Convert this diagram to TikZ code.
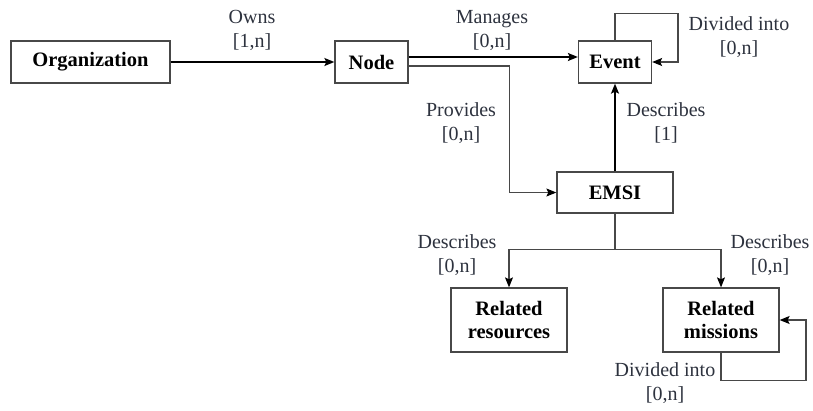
\documentclass[tikz,border=0pt]{standalone}
\usepackage{fontspec}
\setmainfont{Liberation Serif}
\usetikzlibrary{arrows.meta}
\definecolor{lbl}{RGB}{45,50,62}
\definecolor{edge}{RGB}{72,72,72}
\tikzset{
  box/.style={draw=edge, line width=1.3pt, fill=white, font=\fontsize{20.5}{23}\selectfont\bfseries, align=center, inner sep=0pt},
  lab/.style={text=lbl, font=\fontsize{20}{24}\selectfont, align=center, inner sep=0pt},
  arr/.style={draw=black, line width=1.6pt, -{Stealth[length=10pt,width=8pt,inset=2pt]}},
  thin/.style={draw=edge, line width=1.1pt},
  thinarr/.style={thin, -{Stealth[length=10pt,width=8pt,inset=2pt,color=black]}}
}
\begin{document}
\begin{tikzpicture}[x=1pt,y=-1pt]
\useasboundingbox (0,0) rectangle (813,410);
\node[box, minimum width=159pt, minimum height=42pt] (org) at (90.5,62) {Organization};
\node[box, minimum width=73pt, minimum height=42pt] (nd) at (371.5,62) {Node};
\node[box, minimum width=73pt, minimum height=42pt] (ev) at (615,62) {Event};
\node[box, minimum width=116pt, minimum height=41pt] (emsi) at (615,192.5) {EMSI};
\node[box, minimum width=116pt, minimum height=64pt] (res) at (509,320) {Related\\resources};
\node[box, minimum width=116pt, minimum height=64pt] (mis) at (721,320) {Related\\missions};

\draw[arr] (org.east) -- (nd.west);
\draw[arr] ([yshift=5pt]nd.east) -- ([yshift=5pt]ev.west);
\draw[thinarr] ([yshift=-4pt]nd.east) -- ++(101,0) |- (emsi.west);
\draw[thinarr] (ev.north) -- ++(0,-27) -- ++(63,0) |- (ev.east);
\draw[arr] (emsi.north) -- (ev.south);
\draw[thin] (emsi.south) -- ++(0,36) coordinate (split);
\draw[thinarr] (split) -| (res.north);
\draw[thinarr] (split) -| (mis.north);
\draw[thinarr] (mis.south) -- ++(0,28) -- ++(85,0) |- (mis.east);

\node[lab] (l1) at (252,30) {Owns\\{}[1,n]};
\node[lab] (l2) at (492,30) {Manages\\{}[0,n]};
\node[lab] (l3) at (739,37) {Divided into\\{}[0,n]};
\node[lab] (l4) at (461,123) {Provides\\{}[0,n]};
\node[lab] (l5) at (666,123) {Describes\\{}[1]};
\node[lab] (l6) at (457,255) {Describes\\{}[0,n]};
\node[lab] (l7) at (770,255) {Describes\\{}[0,n]};
\node[lab] (l8) at (665,383) {Divided into\\{}[0,n]};
\end{tikzpicture}
\end{document}
